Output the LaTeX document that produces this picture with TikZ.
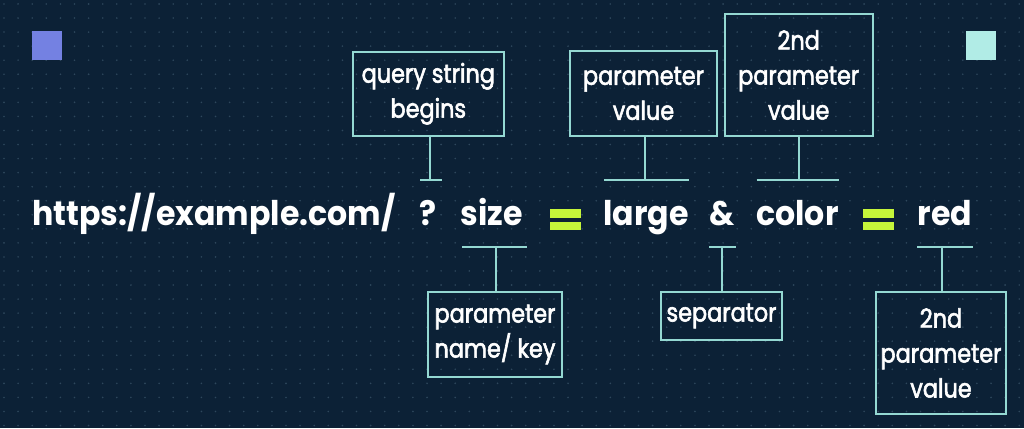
\documentclass[tikz,border=0pt]{standalone}
\usepackage{fontspec}
\setmainfont{Poppins}
\newfontfamily\tokfont{Poppins}[FakeStretch=0.93]
\newfontfamily\boxfont{Poppins}[FakeStretch=0.86, FakeBold=2.2]
\definecolor{bgc}{HTML}{0C2136}
\definecolor{dotc}{HTML}{2E475C}
\definecolor{boxc}{HTML}{94D8D2}
\definecolor{limec}{HTML}{C5F53A}
\definecolor{sqblue}{HTML}{7481E2}
\definecolor{sqteal}{HTML}{B1ECE6}
\begin{document}
\begin{tikzpicture}[x=1pt,y=-1pt,
  lbl/.style={draw=boxc, line width=2.2pt, align=center, text=white,
    font=\boxfont\fontsize{26}{35}\selectfont, inner sep=0pt},
  tok/.style={anchor=base, text=white, font=\tokfont\fontsize{34}{34}\selectfont\bfseries, inner sep=0pt},
  con/.style={draw=boxc, line width=2.2pt},
  eqbar/.style={fill=limec, minimum width=31pt, minimum height=8.4pt, inner sep=0pt},
  sq/.style={minimum width=30pt, minimum height=29.5pt, inner sep=0pt}]
\fill[bgc] (0,0) rectangle (1024,428);
\useasboundingbox (0,0) rectangle (1024,428);
\foreach \i in {0,...,72}{
  \foreach \j in {0,...,30}{
    \fill[dotc] ({4+14.1*\i},{4+14.05*\j}) circle (0.9pt);
  }
}
% corner squares
\node[sq, fill=sqblue] (sqL) at (47.3,45.5) {};
\node[sq, fill=sqteal] (sqR) at (980.7,45.5) {};
% URL tokens
\node[tok] (url) at (214,225) {https://example.com/};
\node[tok] (qm) at (427.5,225) {?};
\node[tok] (size) at (491.5,225) {size};
\node[eqbar] (eq1a) at (565.5,213.5) {};
\node[eqbar] (eq1b) at (565.5,225.9) {};
\node[tok] (large) at (646,225) {large};
\node[tok] (amp) at (722.5,225) {\&};
\node[tok] (color) at (797.5,225) {color};
\node[eqbar] (eq2a) at (878,213.5) {};
\node[eqbar] (eq2b) at (878,225.9) {};
\node[tok] (red) at (945,225) {red};
% label boxes
\node[lbl, minimum width=151pt, minimum height=84pt] (bq) at (428.3,93.8) {query string\\begins};
\node[lbl, minimum width=147pt, minimum height=85pt] (bv) at (643.5,93.5) {parameter\\value};
\node[lbl, minimum width=148pt, minimum height=122pt] (bv2) at (798.7,75) {2nd\\parameter\\value};
\node[lbl, minimum width=134pt, minimum height=85pt] (bk) at (495,334.5) {parameter\\name/ key};
\node[lbl, minimum width=121pt, minimum height=48pt] (bs) at (721.5,316) {separator};
\node[lbl, minimum width=130pt, minimum height=122pt] (br) at (941,353) {2nd\\parameter\\value};
% T connectors
\coordinate (tq) at (430,180); \coordinate (tqL) at (420,180); \coordinate (tqR) at (442,180);
\coordinate (tv) at (645,180); \coordinate (tvL) at (604,180); \coordinate (tvR) at (689,180);
\coordinate (tv2) at (799,180); \coordinate (tv2L) at (756.7,180); \coordinate (tv2R) at (839.3,180);
\coordinate (tk) at (496,247); \coordinate (tkL) at (462,247); \coordinate (tkR) at (527,247);
\coordinate (ts) at (722,247); \coordinate (tsL) at (709,247); \coordinate (tsR) at (736,247);
\coordinate (tr) at (942,247); \coordinate (trL) at (917,247); \coordinate (trR) at (973,247);
\draw[con] (tqL) -- (tqR); \draw[con] (bq.south -| tq) -- (tq);
\draw[con] (tvL) -- (tvR); \draw[con] (bv.south -| tv) -- (tv);
\draw[con] (tv2L) -- (tv2R); \draw[con] (bv2.south -| tv2) -- (tv2);
\draw[con] (tkL) -- (tkR); \draw[con] (bk.north -| tk) -- (tk);
\draw[con] (tsL) -- (tsR); \draw[con] (bs.north -| ts) -- (ts);
\draw[con] (trL) -- (trR); \draw[con] (br.north -| tr) -- (tr);
\end{tikzpicture}
\end{document}
